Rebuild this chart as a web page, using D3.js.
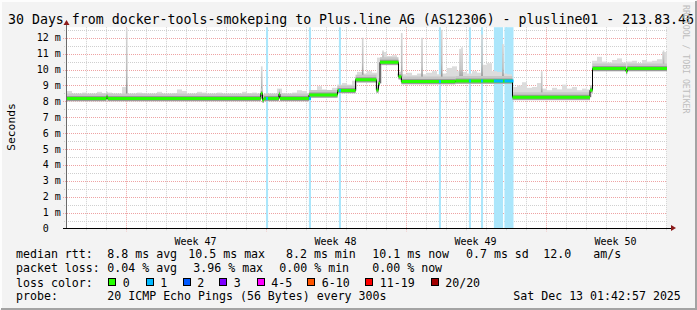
<!DOCTYPE html>
<html>
<head>
<meta charset="utf-8">
<script src="https://cdn.jsdelivr.net/npm/d3@7"></script>
<style>
  body { margin: 0; background: #f3f3f3; }
  text { font-family: "DejaVu Sans Mono", monospace; fill: #000; }
</style>
</head>
<body>
<script>

// ---- data ----
var startTime = "2025-11-13T01:43",
    endTime   = "2025-12-13T01:43";

var yTicks = [0, 1, 2, 3, 4, 5, 6, 7, 8, 9, 10, 11, 12];
var weekStarts = ["2025-11-16T00:00", "2025-11-23T00:00", "2025-11-30T00:00", "2025-12-07T00:00"];
var weekLabels = ["Week 47", "Week 48", "Week 49", "Week 50"];

// median rtt (ms) as steps: [time it changes, new value]
var medianSteps = [
  ["2025-11-13T01:43", 8.17],
  ["2025-11-15T01:00", 8.28],
  ["2025-11-15T02:30", 8.17],
  ["2025-11-22T18:15", 8.50],
  ["2025-11-22T20:15", 8.08],
  ["2025-11-22T22:05", 8.18],
  ["2025-11-23T16:00", 8.45],
  ["2025-11-23T17:15", 8.18],
  ["2025-11-25T04:10", 8.40],
  ["2025-11-26T14:20", 8.68],
  ["2025-11-27T12:00", 9.36],
  ["2025-11-28T13:00", 8.71],
  ["2025-11-28T15:30", 9.13],
  ["2025-11-28T17:20", 10.46],
  ["2025-11-29T15:30", 9.55],
  ["2025-11-29T19:00", 9.24],
  ["2025-12-02T12:00", 9.28],
  ["2025-12-05T08:20", 8.26],
  ["2025-12-09T05:20", 8.70],
  ["2025-12-09T08:20", 10.06],
  ["2025-12-11T00:30", 9.88],
  ["2025-12-11T02:00", 10.06]
];

// periods with 1/20 loss (light blue background bars)
var lossPeriods = [
  ["2025-11-23T00:30", "2025-11-23T03:00"],
  ["2025-11-25T04:00", "2025-11-25T06:30"],
  ["2025-11-26T16:00", "2025-11-26T18:30"],
  ["2025-12-01T16:00", "2025-12-01T18:30"],
  ["2025-12-03T04:00", "2025-12-03T06:30"],
  ["2025-12-03T18:30", "2025-12-03T21:00"],
  ["2025-12-04T10:00", "2025-12-04T21:00"],
  ["2025-12-04T22:40", "2025-12-05T09:30"]
];

// upper edge of the smoke, one value per 6 hours from startTime (ms)
var smokeTop = [
  8.65, 8.45, 8.40, 8.55, 8.40, 8.45, 8.60, 8.50, 8.55, 8.40, 8.45, 8.90, 8.45, 8.40, 8.55, 8.50,
  8.35, 8.45, 8.60, 8.45, 8.40, 8.50, 8.75, 8.65, 8.40, 8.45, 8.60, 8.55, 8.40, 8.45, 8.55, 8.40,
  8.35, 8.45, 8.40, 8.60, 8.50, 8.55, 8.45,
  8.45, 8.40, 8.45, 8.80, 8.50, 8.45, 8.55, 8.70, 8.65, 8.50,
  8.70, 8.95, 8.75, 8.70, 8.85,
  9.05, 9.15, 9.05, 9.30,
  9.85, 9.75, 9.90, 9.80,
  10.75, 11.10, 10.85, 10.90,
  9.75, 9.70, 9.80, 9.65, 9.75, 9.70, 9.80, 9.90, 9.70, 9.75, 10.10, 10.20, 9.90, 9.85, 9.75, 9.90,
  9.80, 10.30, 10.40, 9.90, 9.85, 9.75, 9.70,
  8.90, 9.00, 9.20, 8.85, 8.90, 9.15, 8.80, 8.70, 8.85, 8.75, 9.05, 8.80, 8.90, 8.70, 8.80, 8.75,
  10.55, 10.80, 10.50, 10.45, 10.60, 10.70, 10.45, 10.50, 10.55, 10.40, 10.60, 10.50, 10.55, 10.65, 11.10
];

// single slow pings sticking out of the smoke
var spikes = [
  ["2025-11-16T01:20", 12.6],
  ["2025-11-22T19:20", 10.2],
  ["2025-11-27T20:30", 12.0],
  ["2025-11-28T20:50", 11.2],
  ["2025-11-29T19:20", 12.3],
  ["2025-11-30T19:40", 12.0],
  ["2025-12-01T19:20", 12.5],
  ["2025-12-02T17:20", 11.3],
  ["2025-12-02T19:40", 11.4],
  ["2025-12-03T19:40", 12.2],
  ["2025-12-04T20:50", 11.6],
  ["2025-12-06T19:20", 9.9],
  ["2025-12-12T21:30", 11.2]
];

var titleText = "30 Days from docker-tools-smokeping to Plus.line AG (AS12306) - plusline01 - 213.83.46";
var rttStats  = ["8.8 ms avg", "10.5 ms max", "8.2 ms min", "10.1 ms now", "0.7 ms sd", "12.0", "am/s"];
var lossStats = ["0.04 % avg", "3.96 % max", "0.00 % min", "0.00 % now"];
var lossLabels = ["0", "1", "2", "3", "4-5", "6-10", "11-19", "20/20"];
var lossColors = ["#26ff00", "#00b8ff", "#0059ff", "#7e00ff", "#ff00ff", "#ff5500", "#ff0000", "#a10000"];
var probeText = "20 ICMP Echo Pings (56 Bytes) every 300s";
var stampText = "Sat Dec 13 01:42:57 2025";

// ---- layout ----
var W = 697, H = 310;
var plot = {left: 67, right: 667, top: 28.2, bottom: 228.5};

var parseTime = d3.timeParse("%Y-%m-%dT%H:%M");
var t0 = parseTime(startTime), t1 = parseTime(endTime);

var steps = medianSteps.map(function(d) { return {t: parseTime(d[0]), v: d[1]}; });
var bis = d3.bisector(function(d) { return d.t; }).right;
function medianAt(t) { return steps[Math.max(0, bis(steps, t) - 1)].v; }

// set the ranges
var x = d3.scaleTime().domain([t0, t1]).range([plot.left, plot.right]);
var y = d3.scaleLinear().domain([0, 12.6]).range([plot.bottom, plot.top]);
function px(v) { return Math.round(v) + 0.5; }

var svg = d3.select("body").append("svg")
    .attr("width", W)
    .attr("height", H);

// background + frame
svg.append("rect").attr("width", W).attr("height", H).attr("fill", "#f3f3f3");
svg.append("path").attr("d", "M1,309V1H696").attr("stroke", "#fdfdfd").attr("stroke-width", 2).attr("fill", "none");
svg.append("path").attr("d", "M1,309H696V1").attr("stroke", "#a3a3a3").attr("stroke-width", 2).attr("fill", "none");

// canvas
svg.append("rect")
    .attr("x", plot.left).attr("y", plot.top - 1)
    .attr("width", plot.right - plot.left).attr("height", plot.bottom - plot.top + 1)
    .attr("fill", "#ffffff");

var grid = svg.append("g").attr("stroke-width", 1).attr("stroke-dasharray", "1,1");

// horizontal grid
grid.selectAll(".hmin").data(d3.range(0.5, 12.6, 1)).enter().append("line")
    .attr("x1", plot.left - 3).attr("x2", plot.right)
    .attr("y1", function(d) { return px(y(d)); }).attr("y2", function(d) { return px(y(d)); })
    .attr("stroke", "#cfcfcf");
grid.selectAll(".hmaj").data(yTicks.slice(1)).enter().append("line")
    .attr("x1", plot.left - 4).attr("x2", plot.right)
    .attr("y1", function(d) { return px(y(d)); }).attr("y2", function(d) { return px(y(d)); })
    .attr("stroke", "#eea3a3");

// vertical grid: days and weeks
var weeks = weekStarts.map(parseTime);
var days = d3.timeDay.range(d3.timeDay.ceil(t0), t1).filter(function(d) {
  return !weeks.some(function(w) { return +w === +d; });
});
grid.selectAll(".vmin").data(days).enter().append("line")
    .attr("x1", function(d) { return px(x(d)); }).attr("x2", function(d) { return px(x(d)); })
    .attr("y1", plot.top - 1).attr("y2", plot.bottom + 2)
    .attr("stroke", "#cfcfcf");
grid.selectAll(".vmaj").data(weeks).enter().append("line")
    .attr("x1", function(d) { return px(x(d)); }).attr("x2", function(d) { return px(x(d)); })
    .attr("y1", plot.top - 1).attr("y2", plot.bottom + 3)
    .attr("stroke", "#eea3a3");

// loss background bars
svg.append("g").selectAll("rect").data(lossPeriods).enter().append("rect")
    .attr("x", function(d) { return x(parseTime(d[0])); })
    .attr("width", function(d) { return x(parseTime(d[1])) - x(parseTime(d[0])); })
    .attr("y", plot.top - 1).attr("height", plot.bottom - plot.top + 0.5)
    .attr("fill", "#abe6fb");

// smoke
var binMs = 6 * 3600 * 1000;
svg.append("g").selectAll("rect").data(smokeTop).enter().append("rect")
    .attr("x", function(d, i) { return x(new Date(+t0 + i * binMs)); })
    .attr("width", x(new Date(+t0 + binMs)) - x(t0))
    .attr("y", function(d) { return y(d); })
    .attr("height", function(d, i) {
      var m = medianAt(new Date(+t0 + (i + 0.5) * binMs));
      return Math.max(0, y(m) - y(d));
    })
    .attr("fill", "#dcdcdc");

// spikes
var defs = svg.append("defs");
var grad = defs.append("linearGradient").attr("id", "spikeGrad")
    .attr("x1", 0).attr("y1", 1).attr("x2", 0).attr("y2", 0);
grad.append("stop").attr("offset", 0).attr("stop-color", "#858585");
grad.append("stop").attr("offset", 0.35).attr("stop-color", "#bababa");
grad.append("stop").attr("offset", 1).attr("stop-color", "#d8d8d8");

svg.append("g").selectAll("rect").data(spikes).enter().append("rect")
    .attr("x", function(d) { return x(parseTime(d[0])) - 0.75; })
    .attr("width", 1.6)
    .attr("y", function(d) { return y(d[1]); })
    .attr("height", function(d) { return y(medianAt(parseTime(d[0]))) - y(d[1]); })
    .attr("fill", "url(#spikeGrad)");

// median segments
var segs = steps.map(function(d, i) {
  return {t0: d.t, t1: i < steps.length - 1 ? steps[i + 1].t : t1, v: d.v};
});

function hseg(g, offset, color, width) {
  g.selectAll("line").data(segs).enter().append("line")
      .attr("x1", function(d) { return x(d.t0); })
      .attr("x2", function(d) { return x(d.t1); })
      .attr("y1", function(d) { return y(d.v) + offset; })
      .attr("y2", function(d) { return y(d.v) + offset; })
      .attr("stroke", color)
      .attr("stroke-width", width);
}
hseg(svg.append("g"), -1, "#c8c8c8", 8);
hseg(svg.append("g"), 0, "#9a9a9a", 5);

// black step line of the median
var valueline = d3.line()
    .curve(d3.curveStepAfter)
    .x(function(d) { return x(d.t); })
    .y(function(d) { return y(d.v); });
svg.append("path")
    .datum(steps.concat([{t: t1, v: steps[steps.length - 1].v}]))
    .attr("d", valueline)
    .attr("fill", "none")
    .attr("stroke", "#000")
    .attr("stroke-width", 1);

// loss coloured median: green, blue where 1 ping was lost
hseg(svg.append("g"), 0, lossColors[0], 3);
svg.append("g").selectAll("line").data(lossPeriods).enter().append("line")
    .attr("x1", function(d) { return x(parseTime(d[0])); })
    .attr("x2", function(d) { return x(parseTime(d[1])); })
    .attr("y1", function(d) { return y(medianAt(parseTime(d[0]))); })
    .attr("y2", function(d) { return y(medianAt(parseTime(d[0]))); })
    .attr("stroke", lossColors[1])
    .attr("stroke-width", 3);

// axes
svg.append("line").attr("x1", px(plot.left) - 1).attr("x2", px(plot.left) - 1)
    .attr("y1", plot.bottom).attr("y2", 23).attr("stroke", "#6a6a6a");
svg.append("line").attr("x1", plot.left - 4).attr("x2", 672)
    .attr("y1", px(plot.bottom) - 1).attr("y2", px(plot.bottom) - 1).attr("stroke", "#000");
svg.append("path").attr("d", "M63.5,25L66.5,20L69.5,25Z").attr("fill", "#8b1a1a");
svg.append("path").attr("d", "M671,225L676,228L671,231Z").attr("fill", "#8b1a1a");

// y labels
var yl = svg.append("g").style("font-size", "10px");
yl.selectAll(".num").data(yTicks).enter().append("text")
    .attr("x", 48.7)
    .attr("y", function(d) { return y(d) + 3.5; })
    .attr("text-anchor", "end")
    .text(function(d) { return d; });
yl.selectAll(".unit").data(yTicks.slice(1)).enter().append("text")
    .attr("x", 54.7)
    .attr("y", function(d) { return y(d) + 3.5; })
    .text("m");

// week labels
svg.append("g").style("font-size", "10px").selectAll("text").data(weeks).enter().append("text")
    .attr("x", function(d) { return x(new Date(+d + 3.5 * 86400000)); })
    .attr("y", 245)
    .attr("text-anchor", "middle")
    .text(function(d, i) { return weekLabels[i]; });

// y axis title
svg.append("text")
    .attr("transform", "translate(15,127) rotate(-90)")
    .attr("text-anchor", "middle")
    .style("font-size", "11.3px")
    .text("Seconds");

// title
svg.append("text")
    .attr("x", 8)
    .attr("y", 24)
    .style("font-size", "13.25px")
    .attr("xml:space", "preserve")
    .text(titleText);

// watermark
svg.append("text")
    .attr("transform", "translate(683,5) rotate(90)")
    .style("font-size", "8.2px")
    .style("fill", "#bdbdbd")
    .text("RRDTOOL / TOBI OETIKER");

// legend
var lg = svg.append("g").style("font-size", "11.6px").attr("xml:space", "preserve");
var rows = [258.3, 272.3, 286.7, 300];
lg.append("text").attr("x", 16).attr("y", rows[0]).text("median rtt:");
lg.append("text").attr("x", 16).attr("y", rows[1]).text("packet loss:");
lg.append("text").attr("x", 16).attr("y", rows[2]).text("loss color:");
lg.append("text").attr("x", 16).attr("y", rows[3]).text("probe:");

var rttX = [107.3, 188.3, 286, 372.3, 466, 543.3, 593.3];
lg.selectAll(".rtt").data(rttStats).enter().append("text")
    .attr("x", function(d, i) { return rttX[i]; }).attr("y", rows[0]).text(function(d) { return d; });

var lossX = [107.3, 193.3, 279.3, 372.3];
lg.selectAll(".loss").data(lossStats).enter().append("text")
    .attr("x", function(d, i) { return lossX[i]; }).attr("y", rows[1]).text(function(d) { return d; });

var swX = [108.3, 145.7, 182.7, 219.3, 256.7, 307.3, 365.3, 430.7];
lg.selectAll(".sw").data(lossColors).enter().append("rect")
    .attr("x", function(d, i) { return Math.round(swX[i]) + 0.5; })
    .attr("y", 278.5)
    .attr("width", 7).attr("height", 7)
    .attr("fill", function(d) { return d; })
    .attr("stroke", "#000");
lg.selectAll(".swl").data(lossLabels).enter().append("text")
    .attr("x", function(d, i) { return swX[i] + 14.5; }).attr("y", rows[2]).text(function(d) { return d; });

lg.append("text").attr("x", 107.3).attr("y", rows[3]).text(probeText);
lg.append("text").attr("x", 513.3).attr("y", rows[3]).text(stampText);

</script>
</body>
</html>
